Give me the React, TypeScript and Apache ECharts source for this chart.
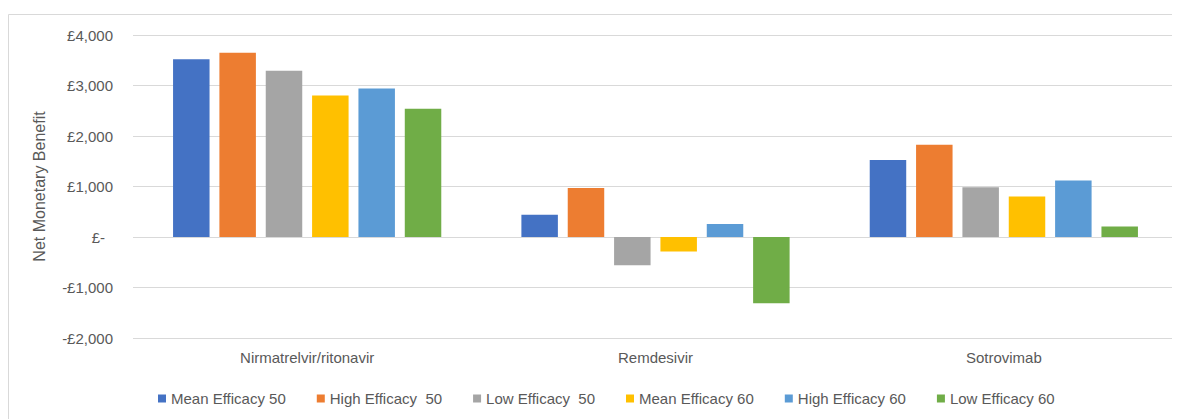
import React, { useEffect, useRef } from "react";
import * as echarts from "echarts";

const categories = ["Nirmatrelvir/ritonavir", "Remdesivir", "Sotrovimab"];
const seriesNames = [
  "Mean Efficacy 50",
  "High Efficacy  50",
  "Low Efficacy  50",
  "Mean Efficacy 60",
  "High Efficacy 60",
  "Low Efficacy 60",
];
const seriesColors = ["#4472C4", "#ED7D31", "#A5A5A5", "#FFC000", "#5B9BD5", "#70AD47"];
const meanEff50 = [3520, 440, 1525];
const highEff50 = [3650, 970, 1825];
const lowEff50 = [3290, -560, 985];
const meanEff60 = [2800, -285, 800];
const highEff60 = [2940, 258, 1117];
const lowEff60 = [2540, -1310, 210];
const seriesValues = [meanEff50, highEff50, lowEff50, meanEff60, highEff60, lowEff60];
const yTicks = { min: -2000, max: 4000, interval: 1000 };

const FONT = "'Liberation Sans', Arial, sans-serif";

function fmt(v: number): string {
  if (v === 0) return "{z|£-}";
  const abs = Math.abs(v).toLocaleString("en-GB");
  return (v < 0 ? "-£" : "£") + abs;
}

export default function App() {
  const ref = useRef<HTMLDivElement>(null);
  useEffect(() => {
    if (!ref.current) return;
    const chart = echarts.init(ref.current, undefined, { renderer: "svg" });
    chart.setOption({
      animation: false,
      backgroundColor: "#ffffff",
      textStyle: { fontFamily: FONT },
      graphic: [
        { type: "line", shape: { x1: 0.5, y1: 6.5, x2: 1168, y2: 6.5 }, style: { stroke: "#d9d9d9", lineWidth: 1 } },
        { type: "line", shape: { x1: 0.5, y1: 6.5, x2: 0.5, y2: 411 }, style: { stroke: "#d9d9d9", lineWidth: 1 } },
      ],
      grid: { left: 125, right: 2, top: 27, bottom: 81, containLabel: false },
      legend: {
        bottom: 8,
        left: 145,
        itemWidth: 8,
        itemHeight: 8,
        itemGap: 31,
        icon: "rect",
        textStyle: { color: "#595959", fontSize: 15, fontFamily: FONT },
        data: seriesNames,
      },
      xAxis: {
        type: "category",
        data: categories,
        axisLine: { show: false },
        axisTick: { show: false },
        axisLabel: { color: "#595959", fontSize: 15, margin: 12, fontFamily: FONT },
      },
      yAxis: {
        type: "value",
        min: yTicks.min,
        max: yTicks.max,
        interval: yTicks.interval,
        name: "Net Monetary Benefit",
        nameLocation: "middle",
        nameGap: 86,
        nameRotate: 90,
        nameTextStyle: { color: "#595959", fontSize: 16, fontFamily: FONT },
        axisLine: { show: false },
        axisTick: { show: false },
        splitLine: { lineStyle: { color: "#d9d9d9", width: 1 } },
        axisLabel: {
          color: "#595959",
          fontSize: 15,
          margin: 20,
          fontFamily: FONT,
          formatter: fmt,
          rich: { z: { color: "#595959", fontSize: 15, fontFamily: FONT, padding: [0, 8, 0, 0] } },
        },
      },
      series: seriesNames.map((name, i) => ({
        name,
        type: "bar",
        data: seriesValues[i],
        itemStyle: { color: seriesColors[i] },
        barGap: "27%",
        barCategoryGap: "23%",
      })),
    });
    return () => chart.dispose();
  }, []);
  return <div ref={ref} style={{ width: 1172, height: 411 }} />;
}
